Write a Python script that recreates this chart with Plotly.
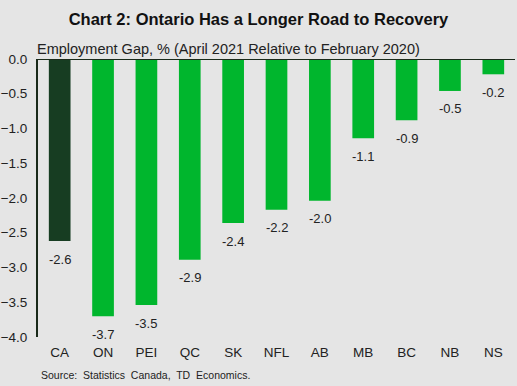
import plotly.graph_objects as go

categories = ["CA", "ON", "PEI", "QC", "SK", "NFL", "AB", "MB", "BC", "NB", "NS"]
values = [-2.62, -3.70, -3.54, -2.89, -2.36, -2.17, -2.04, -1.14, -0.88, -0.46, -0.22]
colors = ["#173d22"] + ["#00b62d"] * 10

fig = go.Figure()
fig.add_trace(go.Bar(
    x=categories, y=values,
    marker=dict(color=colors, line=dict(width=0)),
    width=0.5,
    cliponaxis=False,
))

label_annotations = [
    dict(x=c, y=v, xref="x", yref="y", text=f"{v:.1f}", showarrow=False,
         xanchor="center", yanchor="middle", yshift=-18,
         font=dict(size=13, color="#222222"))
    for c, v in zip(categories, values)
]

fig.update_layout(
    width=517, height=386,
    paper_bgcolor="#e5e5e5", plot_bgcolor="#e5e5e5",
    margin=dict(l=38, r=2, t=59, b=49),
    showlegend=False,
    font=dict(family="Arial, Liberation Sans", color="#222222"),
    title=dict(text="<b>Chart 2: Ontario Has a Longer Road to Recovery</b>",
               x=0.5, xanchor="center", y=1 - 19/386, yanchor="middle",
               font=dict(size=16.5, color="#111111")),
    xaxis=dict(showgrid=False, showline=False, ticks="", tickfont=dict(size=13.5),
               range=[-0.5, 10.5], ticklabelstandoff=5),
    yaxis=dict(range=[-4, 0], dtick=0.5, tickformat=".1f", showgrid=False,
               zeroline=False, showline=True, linecolor="#1a2a1a", linewidth=2,
               ticks="", tickfont=dict(size=13.5), ticklabelstandoff=6),
    shapes=[dict(type="line", xref="paper", yref="y", x0=0, x1=1, y0=0, y1=0,
                 line=dict(color="#1a2a1a", width=2))],
    annotations=label_annotations + [
        dict(text="Employment Gap, % (April 2021 Relative to February 2020)",
             xref="paper", yref="paper", x=-0.006, y=1, xanchor="left", yanchor="bottom",
             yshift=0, showarrow=False, font=dict(size=14.5, color="#222222")),
        dict(text="Source:  Statistics  Canada,  TD  Economics.",
             xref="paper", yref="paper", x=0.003, y=-38/278, xanchor="left", yanchor="middle",
             showarrow=False, font=dict(size=10.5, color="#222222")),
    ],
)

fig.write_html("out.html", config={"displayModeBar": False},
               post_script="document.body.style.margin='0';document.body.style.overflow='hidden';")
